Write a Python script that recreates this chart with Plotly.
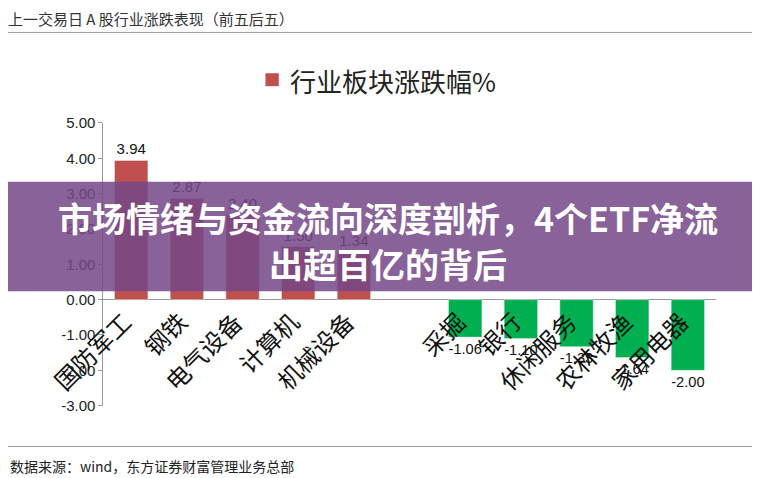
import plotly.graph_objects as go

cats = ["国防军工", "钢铁", "电气设备", "计算机", "机械设备", " ", "采掘", "银行", "休闲服务", "农林牧渔", "家用电器"]
vals = [3.94, 2.87, 2.40, 1.50, 1.34, None, -1.06, -1.10, -1.33, -1.64, -2.00]
colors = ["#c0504d"] * 6 + ["#00b050"] * 5
texts = ["" if v is None else f"{v:.2f}" for v in vals]
ytickvals = [5, 4, 3, 2, 1, 0, -1, -2, -3]
yticktext = [f"{v:.2f}" for v in ytickvals]

W, H = 760, 478
def px(r): return (r - 10) / 0.975 / W
def py(r): return 1 - (r - 14.5) / 0.969 / H

fig = go.Figure(go.Bar(x=cats, y=vals, marker_color=colors, width=0.6, text=texts,
                       textposition="outside", textfont=dict(size=15, color="#111", family="Liberation Sans"),
                       cliponaxis=False, showlegend=False))
fig.update_layout(
    width=W, height=H, margin=dict(l=0, r=0, t=0, b=0), plot_bgcolor="white", paper_bgcolor="white",
    font=dict(family="Noto Sans CJK SC"),
    xaxis=dict(domain=[px(103), px(700)], range=[-0.5, len(cats) - 0.5], showticklabels=False,
               showline=False, ticks=""),
    yaxis=dict(domain=[py(405), py(121)], range=[-3, 5], tickvals=ytickvals, ticktext=yticktext,
               showgrid=False, zeroline=True, zerolinecolor="#999", zerolinewidth=1,
               showline=True, linecolor="#999", ticks="outside", ticklen=4, tickcolor="#999",
               tickfont=dict(size=15, color="#222", family="Liberation Sans")),
)
for c, v in zip(cats, vals):
    if v is None:
        continue
    fig.add_annotation(x=c, y=0, xref="x", yref="y", text=c, showarrow=False, textangle=-45,
                       xanchor="right", yanchor="top", xshift=10, yshift=-2,
                       font=dict(size=24, color="#111"))
# header
fig.add_annotation(x=px(8), y=py(16), xref="paper", yref="paper", xanchor="left", yanchor="middle",
                   text="上一交易日 A 股行业涨跌表现（前五后五）", showarrow=False, font=dict(size=15, color="#333"))
fig.add_shape(type="line", xref="paper", yref="paper", x0=0, x1=1, y0=py(30), y1=py(30), line=dict(color="#999", width=1))
# legend
fig.add_shape(type="rect", xref="paper", yref="paper", x0=px(261), x1=px(274), y0=py(84), y1=py(71),
              fillcolor="#c0504d", line=dict(width=0))
fig.add_annotation(x=px(283), y=py(78), xref="paper", yref="paper", xanchor="left", yanchor="middle",
                   text="行业板块涨跌幅%", showarrow=False, font=dict(size=26, color="#222"))
# footer
fig.add_shape(type="line", xref="paper", yref="paper", x0=0, x1=1, y0=py(446), y1=py(446), line=dict(color="#999", width=1))
fig.add_annotation(x=px(10), y=py(466), xref="paper", yref="paper", xanchor="left", yanchor="middle",
                   text="数据来源：wind，东方证券财富管理业务总部", showarrow=False, font=dict(size=14, color="#222"))
# overlay band
fig.add_shape(type="rect", xref="paper", yref="paper", x0=0, x1=1, y0=py(290), y1=py(180),
              fillcolor="rgba(115,70,135,0.85)", line=dict(width=0), layer="above")
fig.add_annotation(x=0.5, y=py(216), xref="paper", yref="paper", text="<b>市场情绪与资金流向深度剖析，4个ETF净流</b>",
                   showarrow=False, font=dict(size=34, color="white"))
fig.add_annotation(x=0.5, y=py(262), xref="paper", yref="paper", text="<b>出超百亿的背后</b>",
                   showarrow=False, font=dict(size=34, color="white"))
fig.write_html("out.html")
